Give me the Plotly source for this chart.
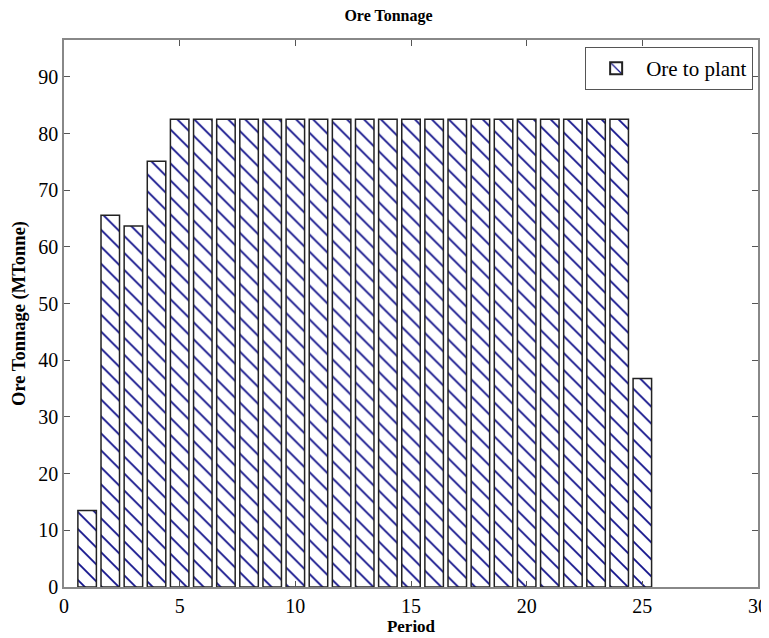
import plotly.graph_objects as go

periods = list(range(1, 26))
ore_to_plant = [13.5, 65.6, 63.7, 75.1] + [82.5] * 20 + [36.8]
x_ticks = [0, 5, 10, 15, 20, 25, 30]
y_ticks = [0, 10, 20, 30, 40, 50, 60, 70, 80, 90]

font = "Liberation Serif, Times New Roman, serif"

fig = go.Figure()
fig.add_trace(go.Bar(
    x=periods, y=ore_to_plant, width=0.8, name="Ore to plant",
    marker=dict(color="white",
                line=dict(color="#222222", width=1.5),
                pattern=dict(shape="\\", fgcolor="#10108a", bgcolor="white",
                             size=12, solidity=0.15, fgopacity=1)),
    showlegend=True,
))

# the page body has an 8px margin, so the figure is sized to fit 769x638 with it
fig.update_layout(
    template="none",
    width=761, height=630,
    margin=dict(l=56, r=11, t=32, b=51, autoexpand=False),
    paper_bgcolor="white", plot_bgcolor="white",
    font=dict(family=font, color="black", size=20),
    title=dict(text="<b>Ore Tonnage</b>", x=0.5, xanchor="center", y=0.997, yanchor="top",
               font=dict(size=16, family=font)),
    showlegend=True,
    legend=dict(x=0.993, y=0.987, xanchor="right", yanchor="top",
                bordercolor="#555555", borderwidth=1, bgcolor="white",
                font=dict(size=21, family=font), itemsizing="constant",
                tracegroupgap=0, itemwidth=50),
    bargap=0.2,
)
fig.update_xaxes(range=[0, 30], tickvals=x_ticks, ticks="inside", ticklen=6,
                 tickcolor="#555555", automargin=False,
                 showline=True, linecolor="#888888", linewidth=1.5, mirror="allticks",
                 showgrid=False, zeroline=False,
                 title=dict(text="<b>Period</b>", font=dict(size=17, family=font), standoff=0),
                 tickfont=dict(size=20, family=font))
fig.update_yaxes(range=[0, 96.5], tickvals=y_ticks, ticks="inside", ticklen=6,
                 tickcolor="#555555", automargin=False,
                 showline=True, linecolor="#888888", linewidth=1.5, mirror="allticks",
                 showgrid=False, zeroline=False,
                 title=dict(text="<b>Ore Tonnage (MTonne)</b>", font=dict(size=18.5, family=font), standoff=8),
                 tickfont=dict(size=20, family=font))

fig.write_html("out.html")
